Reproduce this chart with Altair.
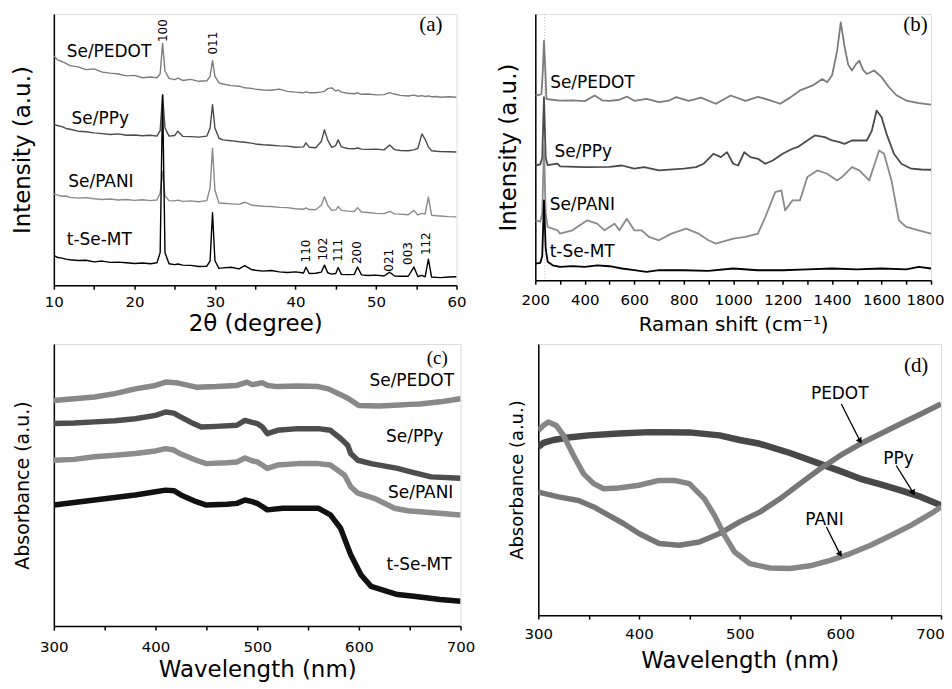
import math
import altair as alt
import pandas as pd

FONT = "DejaVu Sans"
SERIF = "Liberation Serif"

# ---------------- (a) XRD ----------------
xrd_x = [10, 10.5, 11, 11.5, 12,
         13, 14, 15, 16, 17, 18, 19, 20, 21, 22,
         22.8, 23.2, 23.5, 23.8, 24.3,
         25, 25.4, 26, 27, 28, 29,
         29.4, 29.7, 30.0, 30.5, 31,
         32, 33, 33.7, 34.5, 35,
         36, 37, 38, 39, 40,
         41, 41.3, 41.7, 42.5, 43.2,
         43.6, 44.0, 44.5, 45.0, 45.3,
         45.7, 46.5, 47.3, 47.7, 48.2,
         49, 50, 51, 51.7, 52.3,
         53, 54, 54.7, 55.2, 55.7,
         56.1, 56.5, 56.9, 57.5, 58,
         59, 60]
xrd_pedot = [84.5, 83.0, 82.5, 81.8, 81.0,
             80.5, 79.5, 79.8, 78.6, 78.2, 77.9, 77.2, 77.4, 76.5, 76.8,
             76.5, 78.0, 89.2, 79.0, 76.3,
             75.8, 76.4, 75.5, 75.9, 75.2, 75.4,
             77.0, 82.8, 77.0, 74.6, 74.2,
             73.6, 73.4, 72.8, 72.6, 72.3,
             72.0, 71.9, 72.3, 71.5, 71.2,
             71.0, 71.3, 71.0, 71.0, 71.3,
             71.5, 72.5, 72.8, 71.6, 72.0,
             71.2, 70.8, 70.6, 70.9, 70.4,
             70.5, 70.2, 70.3, 71.0, 70.5,
             70.0, 69.8, 70.1, 69.7, 69.9,
             69.6, 69.8, 69.5, 69.6, 69.3,
             69.5, 69.3]
xrd_ppy = [59.5, 58.8, 58.5, 57.8, 57.5,
           56.8, 56.6, 56.2, 55.9, 55.6, 55.8, 55.3, 55.4, 55.1, 55.3,
           55.0, 57.0, 70.2, 58.0, 55.0,
           55.2, 56.8, 54.9, 54.8, 54.6, 55.0,
           58.0, 66.6, 58.0, 54.2, 53.6,
           53.3, 52.9, 52.7, 52.4, 52.1,
           51.8, 51.6, 51.4, 51.3, 50.9,
           51.0, 52.5, 50.9, 50.7, 53.0,
           57.3, 53.5, 50.8, 51.5, 53.6,
           51.0, 50.4, 50.3, 50.6, 50.2,
           50.1, 50.2, 49.9, 51.7, 50.0,
           49.7, 49.6, 49.9, 50.5, 55.8,
           53.8, 51.0, 49.6, 49.4, 49.3,
           49.2, 49.1]
xrd_pani = [33.7, 33.2, 32.8, 32.9, 32.4,
            32.1, 32.3, 31.9, 31.6, 31.8, 31.4, 31.6, 31.3, 31.5, 31.2,
            31.4, 34.0, 42.0, 33.0, 31.2,
            31.1, 31.4, 30.9, 31.1, 30.8, 31.2,
            36.0, 50.5, 35.0, 30.3, 30.2,
            30.0, 29.8, 30.6, 29.6, 29.4,
            29.1, 29.0, 28.7, 28.6, 28.2,
            28.0, 28.5, 27.9, 27.8, 29.5,
            32.6, 29.5, 27.6, 27.8, 29.0,
            27.6, 27.3, 27.2, 28.6, 27.0,
            26.8, 26.5, 26.4, 27.2, 26.3,
            26.2, 26.0, 27.6, 25.9, 26.5,
            26.2, 32.5, 25.8, 25.6, 25.5,
            25.3, 25.2]
xrd_tse = [11.0, 10.2, 10.0, 9.6, 9.4,
           9.1, 9.2, 8.6, 8.9, 8.4, 8.5, 8.3, 8.0, 8.2, 7.9,
           8.3, 12.0, 70.2, 12.0, 7.9,
           7.6, 7.8, 7.4, 7.3, 6.9, 7.0,
           9.0, 26.7, 9.0, 6.2, 6.4,
           6.6, 6.0, 7.2, 5.8, 5.5,
           5.2, 5.4, 4.9, 4.7, 4.9,
           4.5, 6.6, 4.3, 4.4, 4.8,
           7.4, 4.6, 4.1, 4.3, 6.5,
           4.0, 3.9, 4.0, 6.7, 3.8,
           3.6, 3.7, 3.4, 4.8, 3.4,
           3.3, 3.3, 6.7, 3.2, 3.6,
           3.1, 9.6, 3.0, 2.9, 2.8,
           3.0, 3.1]
xrd_names = ["Se/PEDOT", "Se/PPy", "Se/PANI", "t-Se-MT"]
xrd_name_x = [11.6, 12.2, 11.8, 11.6]
xrd_name_y = [85.9, 61.3, 38.0, 16.6]
hkl_labels = ["100", "011", "110", "102", "111", "200", "021", "003", "112"]
hkl_x = [23.6, 29.8, 41.3, 43.4, 45.3, 47.6, 51.6, 54.0, 56.2]
hkl_y = [93.9, 89.3, 12.6, 13.3, 12.9, 12.0, 9.2, 11.7, 15.3]

# ---------------- (b) Raman ----------------
ram_pedot_x = [200, 215, 225, 230, 235, 240, 245, 260, 300, 350, 400, 440, 470, 500, 540, 570, 600, 650,
               700, 740, 770, 820, 870, 930, 990, 1050, 1100, 1150, 1190, 1230, 1270, 1320, 1360, 1380,
               1400, 1420, 1435, 1450, 1465, 1480, 1495, 1510, 1525, 1540, 1570, 1600, 1630, 1660, 1700,
               1750, 1800]
ram_pedot_y = [69.4, 69.6, 70.0, 78.0, 90.0, 80.0, 68.1, 67.9, 67.5, 67.6, 67.3, 69.4, 67.6, 67.4, 67.8,
               69.0, 67.4, 68.1, 66.9, 67.5, 68.8, 67.4, 68.6, 66.3, 69.4, 67.4, 68.9, 67.6, 66.3, 68.6,
               71.3, 73.1, 75.6, 74.4, 77.0, 86.0, 96.9, 88.0, 81.0, 78.8, 81.0, 82.5, 79.0, 77.5, 78.8,
               76.3, 72.5, 69.5, 67.5, 66.5, 66.0]
ram_ppy_x = [200, 220, 228, 235, 242, 250, 290, 300, 400, 500, 550, 600, 640, 700, 800, 850, 880, 920, 950,
             975, 1000, 1020, 1045, 1070, 1100, 1130, 1160, 1200, 1240, 1260, 1300, 1330, 1370, 1400, 1430,
             1450, 1480, 1500, 1540, 1560, 1580, 1600, 1620, 1650, 1680, 1720, 1760, 1800]
ram_ppy_y = [43.1, 43.5, 46.0, 68.75, 46.0, 43.2, 43.8, 42.8, 42.5, 42.6, 43.1, 41.9, 42.5, 41.25, 41.9,
             42.5, 43.75, 47.5, 46.25, 48.1, 43.75, 43.1, 48.1, 46.25, 45.6, 43.75, 45.0, 47.5, 49.4, 50.0,
             52.5, 54.4, 53.75, 52.5, 51.9, 51.25, 52.5, 52.5, 52.5, 56.0, 63.75, 61.25, 55.0, 47.5, 43.75,
             41.9, 41.6, 41.5]
ram_pani_x = [200, 220, 228, 235, 242, 250, 290, 300, 350, 410, 450, 480, 520, 540, 570, 600, 630, 660, 700,
              750, 810, 860, 900, 930, 1000, 1050, 1100, 1130, 1170, 1195, 1210, 1240, 1270, 1300, 1340,
              1380, 1420, 1440, 1480, 1510, 1550, 1590, 1610, 1640, 1670, 1700, 1750, 1800]
ram_pani_y = [22.5, 22.0, 25.0, 51.0, 25.0, 20.0, 18.75, 17.5, 18.75, 22.5, 21.25, 18.75, 21.25, 18.75,
              23.1, 18.75, 18.75, 16.25, 15.0, 17.5, 19.4, 17.5, 15.0, 13.75, 15.6, 16.25, 17.5, 23.75,
              33.1, 33.75, 26.25, 30.0, 30.0, 38.75, 41.25, 40.0, 37.5, 38.75, 42.5, 41.25, 37.5, 48.75,
              47.5, 37.5, 22.5, 20.0, 18.75, 17.5]
ram_tse_x = [200, 220, 228, 235, 242, 250, 270, 300, 350, 400, 450, 500, 550, 600, 650, 700, 800, 900,
             1000, 1100, 1200, 1300, 1400, 1500, 1600, 1700, 1750, 1800]
ram_tse_y = [6.25, 6.5, 9.0, 30.0, 12.0, 6.9, 5.6, 5.0, 5.3, 5.0, 5.6, 5.25, 4.4, 3.75, 3.1, 3.75, 3.75,
             3.5, 4.4, 3.75, 3.75, 4.1, 4.4, 4.1, 4.4, 4.1, 5.0, 4.4]
ram_names = ["Se/PEDOT", "Se/PPy", "Se/PANI", "t-Se-MT"]
ram_name_x = [260, 278, 258, 258]
ram_name_y = [74.0, 48.1, 28.1, 10.6]
ram_guide_x = [238]

# ---------------- (c) UV-vis composites ----------------
uv_pedot_x = [300, 320, 340, 360, 380, 400, 410, 420, 430, 440, 460, 480, 490, 495, 500, 505, 510, 520,
              540, 560, 570, 580, 590, 600, 620, 640, 650, 660, 680, 700]
uv_pedot_y = [80.0, 80.6, 81.2, 82.4, 84.1, 85.3, 86.5, 86.3, 85.5, 84.7, 84.9, 85.3, 86.5, 85.6, 85.9,
              86.3, 85.3, 84.9, 85.1, 84.9, 84.1, 82.4, 80.6, 78.2, 78.0, 78.4, 78.6, 78.7, 79.5, 80.6]
uv_ppy_x = [300, 320, 340, 360, 380, 400, 410, 418, 425, 435, 445, 460, 480, 488, 495, 500, 505, 510, 520,
            540, 560, 572, 582, 589, 592, 599, 612, 638, 651, 671, 700]
uv_ppy_y = [71.8, 72.0, 72.4, 72.8, 73.5, 74.7, 75.9, 75.5, 74.1, 72.2, 70.6, 70.8, 71.2, 72.9, 72.2,
            71.8, 70.6, 68.2, 69.4, 70.0, 70.0, 69.4, 66.5, 64.1, 61.2, 58.8, 57.6, 55.9, 54.7, 52.9, 52.4]
uv_pani_x = [300, 320, 340, 360, 380, 400, 410, 418, 425, 440, 450, 470, 480, 488, 495, 500, 505, 510, 520,
             540, 560, 572, 586, 592, 599, 615, 635, 648, 700]
uv_pani_y = [58.8, 59.1, 60.0, 60.6, 61.2, 62.1, 62.9, 62.4, 61.0, 58.8, 57.6, 57.9, 58.2, 59.6, 58.6,
             58.2, 57.1, 55.9, 57.1, 57.6, 57.6, 57.1, 53.5, 49.4, 47.1, 45.3, 41.8, 40.9, 39.4]
uv_tse_x = [300, 320, 340, 360, 380, 400, 410, 418, 425, 440, 450, 470, 480, 488, 495, 500, 505, 510, 525,
            540, 560, 572, 582, 592, 602, 612, 638, 654, 680, 700]
uv_tse_y = [42.9, 43.8, 44.7, 45.6, 46.5, 47.6, 48.2, 48.0, 46.5, 44.1, 42.9, 43.2, 43.5, 44.7, 44.1,
            43.5, 42.4, 41.2, 41.8, 41.8, 41.8, 39.4, 34.7, 25.3, 18.2, 14.1, 11.2, 10.6, 9.4, 8.8]
uv_names = ["Se/PEDOT", "Se/PPy", "Se/PANI", "t-Se-MT"]
uv_name_x = [652.0, 654.9, 660.8, 659.2]
uv_name_y = [86.8, 67.1, 47.1, 21.8]

# ---------------- (d) UV-vis polymers ----------------
pol_ppy_x = [300, 305, 315, 330, 350, 380, 410, 450, 480, 500, 520, 550, 580, 600, 620, 640, 660, 680, 700]
pol_ppy_y = [62.0, 63.5, 64.6, 65.5, 66.3, 67.0, 67.5, 67.4, 66.3, 64.6, 63.2, 59.8, 55.8, 53.1, 50.3,
             48.2, 46.0, 43.6, 40.5]
pol_pedot_x = [300, 320, 340, 355, 370, 385, 400, 420, 440, 460, 480, 500, 520, 540, 560, 580, 600, 620,
               640, 660, 680, 700]
pol_pedot_y = [45.4, 43.6, 42.3, 39.9, 36.8, 33.7, 30.1, 26.4, 25.8, 27.0, 30.1, 34.4, 38.0, 42.9, 48.5,
               54.0, 58.9, 63.2, 66.9, 70.6, 74.2, 77.9]
pol_pani_x = [300, 305, 310, 318, 325, 335, 345, 355, 365, 380, 400, 420, 435, 450, 465, 475, 485, 495,
              510, 530, 550, 570, 590, 610, 630, 650, 670, 690, 700]
pol_pani_y = [68.1, 69.9, 71.2, 69.9, 66.3, 58.9, 52.1, 48.5, 46.6, 46.9, 47.9, 49.7, 49.7, 48.5, 42.9,
              36.8, 29.4, 23.3, 19.0, 17.4, 17.2, 18.2, 20.2, 22.7, 25.8, 29.4, 33.1, 37.4, 39.9]
pol_names = ["PEDOT", "PPy", "PANI"]
pol_name_x = [599.4, 657.8, 584.3]
pol_name_y = [81.6, 57.7, 35.0]
arrow_x1 = [601.0, 655.5, 586.2]
arrow_y1 = [77.9, 55.2, 32.5]
arrow_x2 = [619.2, 672.0, 599.4]
arrow_y2 = [64.5, 45.4, 22.7]

panel_letters = ["(a)", "(b)", "(c)", "(d)"]
letter_x = [56.8, 1736.8, 677.1, 675.3]
letter_y = [96.1, 96.0, 95.0, 92.0]


def y_axis(title, size, pad):
    return alt.Axis(title=title, labels=False, ticks=False,
                    grid=False, titleFontSize=size, titlePadding=pad, titleFont=FONT,
                    titleFontWeight="normal", titleColor="black", domainColor="black", domainWidth=1.5)


def x_axis(title, values, major, tick, lpad, tpad, tsize, last=None, last_shift=0):
    kw = {}
    if last is not None:
        kw["labelOffset"] = {"condition": {"test": f"datum.value == {last}", "value": last_shift}, "value": 0}
    return alt.Axis(title=title, values=values, grid=False, tickSize=tick, tickColor="black", tickWidth=1.5,
                    format="d",
                    labelExpr=f"datum.value % {major} == 0 ? datum.label : ''", labelFontSize=15,
                    labelFont=FONT, labelColor="black", labelPadding=lpad, labelFlush=False,
                    titleFont=FONT, titleFontSize=tsize, titleFontWeight="normal", titleColor="black",
                    titlePadding=tpad, domainColor="black", domainWidth=1.5, labelOverlap=False, **kw)


def panel(series, xdom, xax, yax, texts):
    xs = alt.Scale(domain=xdom, nice=False, zero=False)
    ys = alt.Scale(domain=[0, 100], nice=False, zero=False)
    layers = []
    for xv, yv, color, sw in series:
        df = pd.DataFrame({"x": xv, "y": yv})
        layers.append(alt.Chart(df).mark_line(color=color, strokeWidth=sw, clip=True,
                                              strokeJoin="round").encode(
            x=alt.X("x:Q", scale=xs, axis=xax), y=alt.Y("y:Q", scale=ys, axis=yax)))
    for df, props in texts:
        enc = dict(x=alt.X("x:Q", scale=xs, axis=xax), y=alt.Y("y:Q", scale=ys, axis=yax), text="t:N")
        layers.append(alt.Chart(df).mark_text(**props).encode(**enc))
    return layers, xs, ys


def tdf(labels, xv, yv):
    return pd.DataFrame({"t": labels, "x": xv, "y": yv})


# ---- panel a
ax_a = x_axis("2θ (degree)", list(range(10, 61, 5)), 10, 4, 5, 3, 23)
ay_a = y_axis("Intensity (a.u.)", 23, 19)
layers_a, _, _ = panel(
    [(xrd_x, xrd_pedot, "#7c7c7c", 1.4), (xrd_x, xrd_ppy, "#4a4a4a", 1.4),
     (xrd_x, xrd_pani, "#8a8a8a", 1.4), (xrd_x, xrd_tse, "#000000", 1.4)],
    [10, 60], ax_a, ay_a,
    [(tdf(xrd_names, xrd_name_x, xrd_name_y), dict(font=FONT, fontSize=17, align="left", baseline="middle", color="black")),
     (tdf(hkl_labels, hkl_x, hkl_y), dict(font=FONT, fontSize=12, angle=270, align="center", baseline="middle", color="black")),
     (tdf(panel_letters[:1], letter_x[:1], letter_y[:1]), dict(font=SERIF, fontSize=21, align="center", baseline="middle", color="black"))])
chart_a = alt.layer(*layers_a).properties(width=404, height=272)

# ---- panel b
ax_b = x_axis("Raman shift (cm⁻¹)", list(range(200, 1801, 100)), 200, 4, 8, 7, 20, last=1800, last_shift=-6)
ay_b = y_axis("Intensity (a.u.)", 23, 15)
layers_b, xs_b, ys_b = panel(
    [(ram_pedot_x, ram_pedot_y, "#7c7c7c", 1.8), (ram_ppy_x, ram_ppy_y, "#4a4a4a", 1.8),
     (ram_pani_x, ram_pani_y, "#8a8a8a", 1.8), (ram_tse_x, ram_tse_y, "#000000", 1.8)],
    [200, 1800], ax_b, ay_b,
    [(tdf(ram_names, ram_name_x, ram_name_y), dict(font=FONT, fontSize=17, align="left", baseline="middle", color="black")),
     (tdf(panel_letters[1:2], letter_x[1:2], letter_y[1:2]), dict(font=SERIF, fontSize=21, align="center", baseline="middle", color="black"))])
guide_b = alt.Chart(pd.DataFrame({"x": ram_guide_x})).mark_rule(color="#bbbbbb", strokeDash=[1, 2], strokeWidth=1).encode(
    x=alt.X("x:Q", scale=xs_b, axis=ax_b))
chart_b = alt.layer(guide_b, *layers_b).properties(width=397, height=267)

# ---- panel c
ax_c = x_axis("Wavelength (nm)", list(range(300, 701, 50)), 100, 4, 9, 5, 23)
ay_c = y_axis("Absorbance (a.u.)", 19, 21)
layers_c, _, _ = panel(
    [(uv_pedot_x, uv_pedot_y, "#888888", 5.5), (uv_ppy_x, uv_ppy_y, "#4d4d4d", 5.5),
     (uv_pani_x, uv_pani_y, "#8c8c8c", 5.5), (uv_tse_x, uv_tse_y, "#111111", 5.5)],
    [300, 700], ax_c, ay_c,
    [(tdf(uv_names, uv_name_x, uv_name_y), dict(font=FONT, fontSize=17, align="center", baseline="middle", color="black")),
     (tdf(panel_letters[2:3], letter_x[2:3], letter_y[2:3]), dict(font=SERIF, fontSize=19, align="center", baseline="middle", color="black"))])
chart_c = alt.layer(*layers_c).properties(width=408, height=283)

# ---- panel d
ax_d = x_axis("Wavelength (nm)", list(range(300, 701, 50)), 100, 4, 7, 9, 23, last=700, last_shift=-11)
ay_d = y_axis("Absorbance (a.u.)", 18, 12)
layers_d, xs_d, ys_d = panel(
    [(pol_ppy_x, pol_ppy_y, "#484848", 6.5), (pol_pedot_x, pol_pedot_y, "#767676", 5.5),
     (pol_pani_x, pol_pani_y, "#868686", 5.5)],
    [300, 700], ax_d, ay_d,
    [(tdf(pol_names, pol_name_x, pol_name_y), dict(font=FONT, fontSize=17, align="center", baseline="middle", color="black")),
     (tdf(panel_letters[3:], letter_x[3:], letter_y[3:]), dict(font=SERIF, fontSize=21, align="center", baseline="middle", color="black"))])

W_D, H_D = 404, 272
arr = pd.DataFrame({"x": arrow_x1, "y": arrow_y1, "x2": arrow_x2, "y2": arrow_y2})
arr["ang"] = [math.degrees(math.atan2((b - a) / 400 * W_D, (c - d) / 100 * H_D))
              for a, b, c, d in zip(arr.x, arr.x2, arr.y, arr.y2)]
arrow_lines = alt.Chart(arr).mark_rule(color="black", strokeWidth=1.3).encode(
    x=alt.X("x:Q", scale=xs_d, axis=ax_d), y=alt.Y("y:Q", scale=ys_d, axis=ay_d), x2="x2:Q", y2="y2:Q")
arrow_heads = alt.Chart(arr).mark_point(shape="triangle", filled=True, color="black", size=45, opacity=1).encode(
    x=alt.X("x2:Q", scale=xs_d, axis=ax_d), y=alt.Y("y2:Q", scale=ys_d, axis=ay_d),
    angle=alt.Angle("ang:Q", scale=None))
chart_d = alt.layer(*layers_d, arrow_lines, arrow_heads).properties(width=W_D, height=H_D)

row1 = alt.hconcat(chart_a, chart_b, spacing=29)
row2 = alt.hconcat(chart_c, chart_d, spacing=32)
chart = alt.vconcat(row1, row2, spacing=7).properties(
    padding={"left": 3, "top": 4, "right": -1, "bottom": 0}
).configure_view(stroke="black", strokeWidth=1.5).configure(background="white")

chart.save("out.html", embed_options={"renderer": "svg", "actions": False})
